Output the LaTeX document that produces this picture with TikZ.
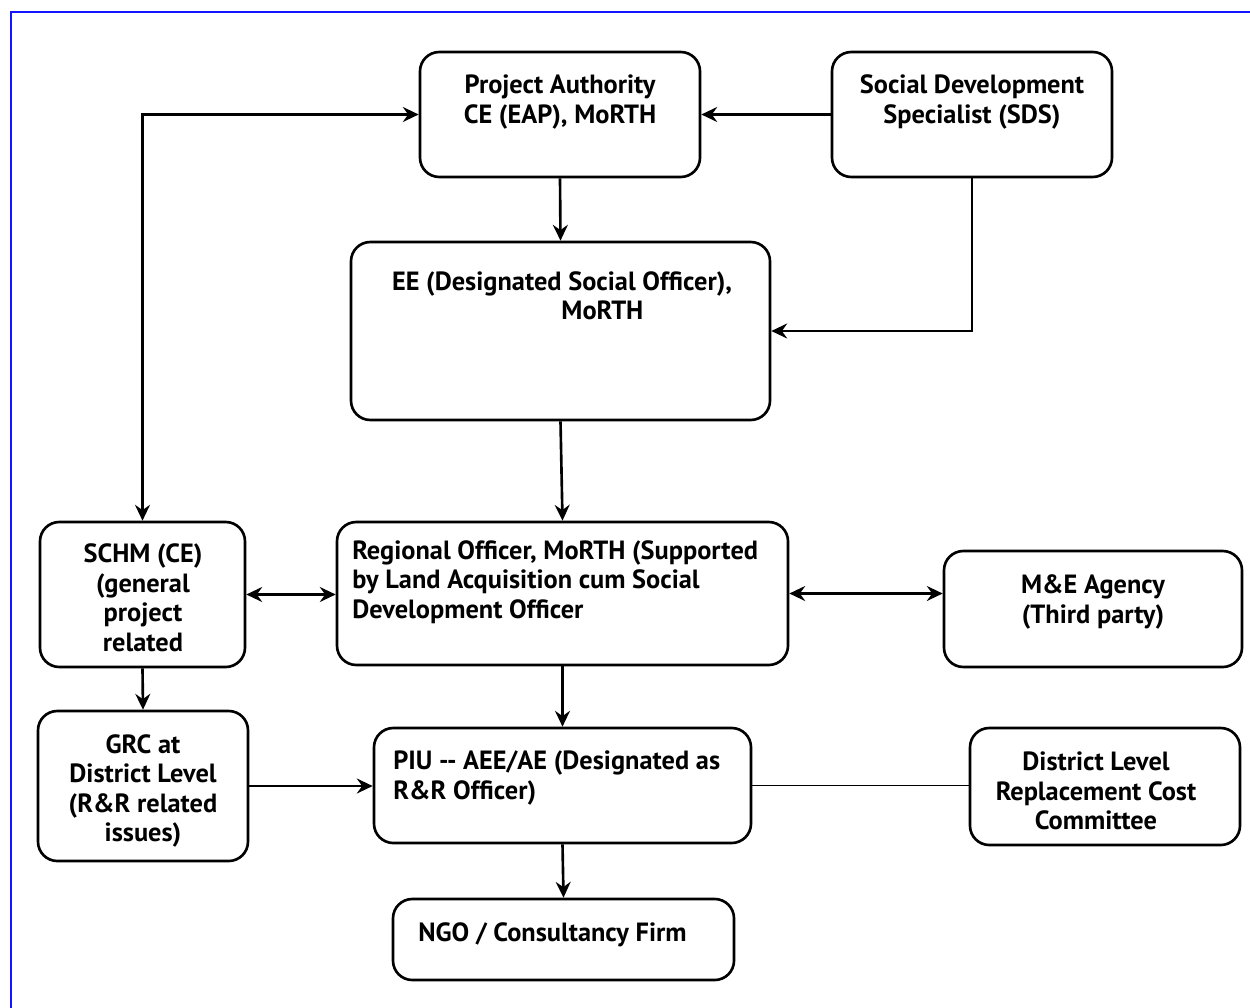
\documentclass[tikz,border=0pt]{standalone}
\usepackage{fontspec}
\setmainfont{PT Sans}
\usetikzlibrary{positioning}
\usetikzlibrary{arrows.meta}
\usetikzlibrary{fit}
\definecolor{frameblue}{RGB}{20,20,255}

\begin{document}
\begin{tikzpicture}[
    x=0.02cm, y=-0.02cm,
    >={Stealth[length=9pt, width=8.5pt, inset=3pt]},
    % node styles
    box/.style = {
      draw=black,
      line width=1.5pt,
      rounded corners=11pt,
      inner sep=0pt
    },
    txt/.style = {
      align=center,
      inner sep=0pt,
      font=\bfseries\fontsize{15}{16.8}\selectfont
    },
    ltxt/.style = {txt, align=left, anchor=west},
    % arrow styles
    twoarr/.style = {<->, line width=1.5pt, draw=black},
    arr/.style = {->, line width=1.5pt, draw=black},
    plain/.style = {line width=1pt, draw=black}
  ]

  \useasboundingbox (0,0) rectangle (1250,1007);
  \draw[frameblue, line width=1.4pt] (11,1030) |- (1270,12);

  % --- Boxes
  \node[box, fit={(420,52) (700,177)}] (pa) {};
  \node[box, fit={(832,52) (1112,177)}] (sds) {};
  \node[box, fit={(351,242) (770,420)}] (ee) {};
  \node[box, fit={(40,522) (245,667)}] (schm) {};
  \node[box, fit={(337,522) (788,665)}] (ro) {};
  \node[box, fit={(944,551) (1242,667)}] (me) {};
  \node[box, fit={(38,711) (248,861)}] (grc) {};
  \node[box, fit={(374,728) (751,843)}] (piu) {};
  \node[box, fit={(970,728) (1240,845)}] (dlrc) {};
  \node[box, fit={(393,899) (734,980)}] (ngo) {};

  % --- Texts
  \node[txt] (pa-t) at (560,102) {Project Authority\\CE (EAP), MoRTH};
  \node[txt] (sds-t) at (972,102) {Social Development\\Specialist (SDS)};
  \node[txt] (ee-t) at (562,296) {EE (Designated Social Officer),\\\hspace*{46pt}MoRTH};
  \node[txt] (schm-t) at (143,598) {SCHM (CE)\\(general\\project\\related};
  \node[ltxt] (ro-t) at (352,582) {Regional Officer, MoRTH (Supported\\by Land Acquisition cum Social\\Development Officer};
  \node[txt] (me-t) at (1093,602) {M\&E Agency\\(Third party)};
  \node[txt] (grc-t) at (143,791) {GRC at\\District Level\\(R\&R related\\issues)};
  \node[ltxt] (piu-t) at (393,778) {PIU -{}- AEE/AE (Designated as\\R\&R Officer)};
  \node[txt] (dlrc-t) at (1096,791) {District Level\\Replacement Cost\\Committee};
  \node[ltxt] (ngo-t) at (418,935) {NGO / Consultancy Firm};

  % --- Arrows
  \draw[twoarr] (schm.north) |- (pa.west);
  \draw[arr] (sds.west) -- (pa.east);
  \draw[arr] (pa.south) -- (ee.north);
  \draw[arr] (sds.south) |- (ee.east);
  \draw[arr] (ee.south) -- (ro.north);
  \draw[twoarr] (schm.east) -- (schm.east -| ro.west);
  \draw[twoarr] (ro.east) -- (ro.east -| me.west);
  \draw[arr] (schm.south) -- (grc.north);
  \draw[arr] (ro.south) -- (piu.north);
  \draw[arr] (grc.east) -- (grc.east -| piu.west);
  \draw[plain] (piu.east) -- (piu.east -| dlrc.west);
  \draw[arr] (piu.south) -- (ngo.north);

\end{tikzpicture}
\end{document}
